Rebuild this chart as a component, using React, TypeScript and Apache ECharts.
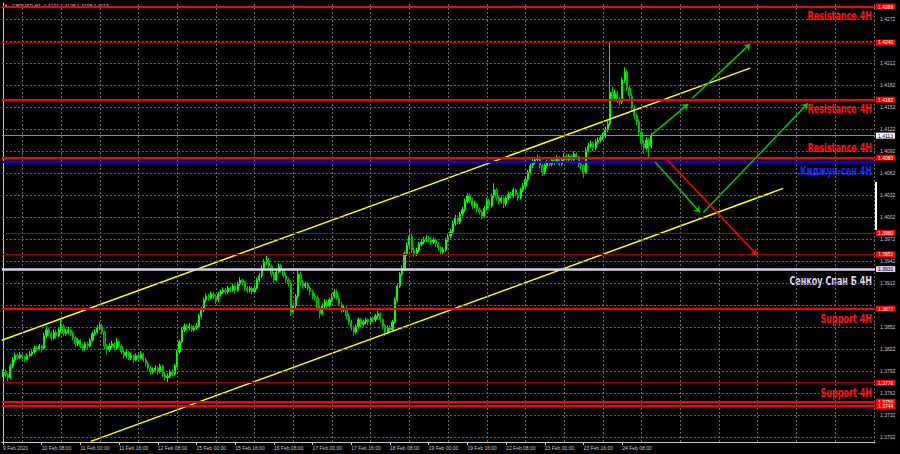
import React, { useEffect, useRef } from 'react';
import * as echarts from 'echarts';

// ---------- DATA ----------
const tickLabels = ['9 Feb 2021', '10 Feb 08:00', '11 Feb 00:00', '11 Feb 16:00', '12 Feb 08:00', '15 Feb 00:00', '15 Feb 16:00', '16 Feb 08:00', '17 Feb 00:00', '17 Feb 16:00', '18 Feb 08:00', '19 Feb 00:00', '19 Feb 16:00', '22 Feb 08:00', '23 Feb 00:00', '23 Feb 16:00', '24 Feb 08:00'];
const barsPerLabel = 16;
const totalSlots = 361; // bars + empty shift area on the right

const firstOpen = 1.3789;
const closes = [
  1.3791, 1.3787, 1.3783, 1.3799, 1.3807, 1.3813, 1.3810, 1.3814, 1.3811, 1.3808,
  1.3813, 1.3815, 1.3818, 1.3823, 1.3822, 1.3826, 1.3823, 1.3840, 1.3848, 1.3843,
  1.3837, 1.3845, 1.3840, 1.3848, 1.3853, 1.3843, 1.3845, 1.3848, 1.3843, 1.3837,
  1.3829, 1.3834, 1.3826, 1.3823, 1.3829, 1.3826, 1.3834, 1.3843, 1.3845, 1.3851,
  1.3853, 1.3845, 1.3826, 1.3821, 1.3826, 1.3829, 1.3823, 1.3832, 1.3826, 1.3818,
  1.3813, 1.3818, 1.3810, 1.3813, 1.3807, 1.3813, 1.3810, 1.3815, 1.3807, 1.3802,
  1.3796, 1.3791, 1.3793, 1.3796, 1.3791, 1.3799, 1.3788, 1.3783, 1.3785, 1.3791,
  1.3788, 1.3799, 1.3818, 1.3832, 1.3848, 1.3853, 1.3851, 1.3853, 1.3848, 1.3851,
  1.3853, 1.3867, 1.3875, 1.3889, 1.3894, 1.3892, 1.3897, 1.3894, 1.3889, 1.3897,
  1.3900, 1.3902, 1.3900, 1.3905, 1.3902, 1.3908, 1.3902, 1.3911, 1.3916, 1.3913,
  1.3905, 1.3902, 1.3905, 1.3900, 1.3905, 1.3916, 1.3922, 1.3932, 1.3941, 1.3943,
  1.3935, 1.3924, 1.3916, 1.3927, 1.3935, 1.3930, 1.3922, 1.3916, 1.3911, 1.3872,
  1.3881, 1.3894, 1.3924, 1.3913, 1.3908, 1.3911, 1.3905, 1.3900, 1.3894, 1.3892,
  1.3878, 1.3870, 1.3881, 1.3886, 1.3881, 1.3889, 1.3894, 1.3900, 1.3892, 1.3883,
  1.3875, 1.3878, 1.3867, 1.3859, 1.3851, 1.3845, 1.3853, 1.3862, 1.3856, 1.3859,
  1.3862, 1.3859, 1.3864, 1.3862, 1.3867, 1.3870, 1.3862, 1.3853, 1.3845, 1.3851,
  1.3848, 1.3859, 1.3889, 1.3908, 1.3924, 1.3932, 1.3952, 1.3963, 1.3976, 1.3957,
  1.3952, 1.3957, 1.3965, 1.3968, 1.3971, 1.3973, 1.3971, 1.3968, 1.3971, 1.3965,
  1.3960, 1.3954, 1.3957, 1.3971, 1.3976, 1.3982, 1.3993, 1.4001, 1.3995, 1.4006,
  1.4012, 1.4023, 1.4031, 1.4025, 1.4017, 1.4020, 1.4012, 1.4009, 1.4003, 1.4014,
  1.4025, 1.4017, 1.4031, 1.4039, 1.4028, 1.4023, 1.4028, 1.4020, 1.4028, 1.4033,
  1.4031, 1.4039, 1.4033, 1.4028, 1.4039, 1.4044, 1.4053, 1.4063, 1.4072, 1.4077,
  1.4080, 1.4083, 1.4072, 1.4063, 1.4072, 1.4077, 1.4074, 1.4080, 1.4077, 1.4083,
  1.4074, 1.4080, 1.4085, 1.4080, 1.4085, 1.4080, 1.4088, 1.4083, 1.4074, 1.4072,
  1.4063, 1.4093, 1.4099, 1.4102, 1.4096, 1.4104, 1.4107, 1.4110, 1.4113, 1.4121,
  1.4129, 1.4172, 1.4164, 1.4170, 1.4162, 1.4159, 1.4189, 1.4200, 1.4178, 1.4167,
  1.4151, 1.4140, 1.4132, 1.4118, 1.4102, 1.4096, 1.4107, 1.4099, 1.4113
];
const highs = [
  1.3794, 1.3795, 1.3789, 1.3802, 1.3811, 1.3817, 1.3816, 1.3818, 1.3817, 1.3813,
  1.3816, 1.3819, 1.3821, 1.3827, 1.3826, 1.3829, 1.3828, 1.3844, 1.3853, 1.3851,
  1.3846, 1.3849, 1.3848, 1.3852, 1.3862, 1.3856, 1.3849, 1.3852, 1.3850, 1.3846,
  1.3839, 1.3837, 1.3836, 1.3829, 1.3832, 1.3832, 1.3837, 1.3846, 1.3849, 1.3855,
  1.3859, 1.3856, 1.3847, 1.3829, 1.3830, 1.3833, 1.3831, 1.3837, 1.3834, 1.3828,
  1.3821, 1.3821, 1.3820, 1.3817, 1.3815, 1.3816, 1.3815, 1.3819, 1.3817, 1.3810,
  1.3805, 1.3799, 1.3797, 1.3800, 1.3798, 1.3802, 1.3801, 1.3791, 1.3789, 1.3794,
  1.3795, 1.3802, 1.3821, 1.3835, 1.3852, 1.3857, 1.3856, 1.3857, 1.3855, 1.3854,
  1.3857, 1.3870, 1.3879, 1.3892, 1.3898, 1.3897, 1.3900, 1.3899, 1.3896, 1.3900,
  1.3903, 1.3906, 1.3905, 1.3908, 1.3907, 1.3911, 1.3910, 1.3914, 1.3920, 1.3918,
  1.3915, 1.3908, 1.3908, 1.3907, 1.3908, 1.3919, 1.3926, 1.3936, 1.3945, 1.3949,
  1.3946, 1.3937, 1.3927, 1.3930, 1.3939, 1.3938, 1.3932, 1.3925, 1.3919, 1.3914,
  1.3885, 1.3897, 1.3932, 1.3927, 1.3916, 1.3914, 1.3913, 1.3908, 1.3903, 1.3898,
  1.3895, 1.3881, 1.3884, 1.3890, 1.3889, 1.3892, 1.3898, 1.3904, 1.3903, 1.3895,
  1.3886, 1.3882, 1.3880, 1.3870, 1.3862, 1.3854, 1.3856, 1.3865, 1.3864, 1.3862,
  1.3865, 1.3864, 1.3867, 1.3866, 1.3870, 1.3874, 1.3872, 1.3864, 1.3856, 1.3854,
  1.3854, 1.3862, 1.3892, 1.3911, 1.3927, 1.3936, 1.3955, 1.3967, 1.3986, 1.3979,
  1.3960, 1.3960, 1.3968, 1.3972, 1.3975, 1.3977, 1.3976, 1.3974, 1.3974, 1.3973,
  1.3968, 1.3962, 1.3961, 1.3974, 1.3980, 1.3986, 1.3997, 1.4005, 1.4004, 1.4009,
  1.4016, 1.4027, 1.4035, 1.4034, 1.4028, 1.4024, 1.4022, 1.4015, 1.4011, 1.4017,
  1.4028, 1.4027, 1.4034, 1.4048, 1.4041, 1.4031, 1.4031, 1.4030, 1.4031, 1.4037,
  1.4036, 1.4042, 1.4041, 1.4035, 1.4042, 1.4048, 1.4056, 1.4066, 1.4075, 1.4081,
  1.4084, 1.4087, 1.4085, 1.4074, 1.4075, 1.4080, 1.4079, 1.4083, 1.4082, 1.4086,
  1.4085, 1.4083, 1.4089, 1.4088, 1.4088, 1.4087, 1.4092, 1.4090, 1.4085, 1.4077,
  1.4074, 1.4097, 1.4103, 1.4106, 1.4105, 1.4108, 1.4111, 1.4114, 1.4117, 1.4125,
  1.4133, 1.4241, 1.4180, 1.4176, 1.4174, 1.4166, 1.4193, 1.4206, 1.4203, 1.4181,
  1.4170, 1.4154, 1.4143, 1.4135, 1.4121, 1.4106, 1.4111, 1.4110, 1.4117
];
const lows = [
  1.3784, 1.3783, 1.3778, 1.3781, 1.3796, 1.3804, 1.3807, 1.3808, 1.3808, 1.3804,
  1.3806, 1.3811, 1.3812, 1.3816, 1.3819, 1.3820, 1.3817, 1.3821, 1.3837, 1.3839,
  1.3833, 1.3835, 1.3836, 1.3838, 1.3845, 1.3840, 1.3840, 1.3842, 1.3840, 1.3834,
  1.3825, 1.3826, 1.3823, 1.3819, 1.3820, 1.3822, 1.3824, 1.3832, 1.3840, 1.3843,
  1.3848, 1.3842, 1.3822, 1.3815, 1.3818, 1.3823, 1.3820, 1.3821, 1.3823, 1.3815,
  1.3809, 1.3810, 1.3807, 1.3807, 1.3803, 1.3805, 1.3806, 1.3808, 1.3804, 1.3798,
  1.3793, 1.3787, 1.3788, 1.3790, 1.3787, 1.3789, 1.3784, 1.3779, 1.3777, 1.3782,
  1.3785, 1.3786, 1.3797, 1.3815, 1.3830, 1.3845, 1.3847, 1.3848, 1.3845, 1.3846,
  1.3848, 1.3851, 1.3864, 1.3872, 1.3886, 1.3888, 1.3889, 1.3890, 1.3883, 1.3886,
  1.3894, 1.3897, 1.3896, 1.3897, 1.3899, 1.3900, 1.3898, 1.3900, 1.3908, 1.3909,
  1.3901, 1.3898, 1.3899, 1.3896, 1.3897, 1.3903, 1.3913, 1.3919, 1.3929, 1.3937,
  1.3931, 1.3920, 1.3912, 1.3914, 1.3925, 1.3926, 1.3919, 1.3912, 1.3907, 1.3867,
  1.3869, 1.3878, 1.3891, 1.3909, 1.3904, 1.3905, 1.3902, 1.3896, 1.3890, 1.3888,
  1.3874, 1.3864, 1.3868, 1.3878, 1.3877, 1.3879, 1.3886, 1.3891, 1.3889, 1.3880,
  1.3871, 1.3872, 1.3863, 1.3855, 1.3847, 1.3840, 1.3842, 1.3850, 1.3852, 1.3853,
  1.3856, 1.3855, 1.3856, 1.3858, 1.3859, 1.3864, 1.3858, 1.3849, 1.3840, 1.3842,
  1.3844, 1.3846, 1.3857, 1.3886, 1.3905, 1.3921, 1.3929, 1.3949, 1.3960, 1.3953,
  1.3948, 1.3949, 1.3954, 1.3962, 1.3965, 1.3968, 1.3967, 1.3964, 1.3965, 1.3961,
  1.3956, 1.3950, 1.3951, 1.3955, 1.3968, 1.3973, 1.3979, 1.3990, 1.3991, 1.3992,
  1.4003, 1.4009, 1.4020, 1.4021, 1.4013, 1.4014, 1.4008, 1.4005, 1.3999, 1.4001,
  1.4011, 1.4013, 1.4015, 1.4028, 1.4024, 1.4019, 1.4020, 1.4014, 1.4017, 1.4025,
  1.4027, 1.4028, 1.4030, 1.4024, 1.4026, 1.4036, 1.4041, 1.4050, 1.4060, 1.4069,
  1.4074, 1.4077, 1.4068, 1.4058, 1.4060, 1.4069, 1.4071, 1.4071, 1.4073, 1.4075,
  1.4071, 1.4072, 1.4077, 1.4076, 1.4078, 1.4077, 1.4078, 1.4080, 1.4070, 1.4067,
  1.4055, 1.4061, 1.4090, 1.4096, 1.4092, 1.4093, 1.4101, 1.4104, 1.4107, 1.4110,
  1.4118, 1.4126, 1.4160, 1.4160, 1.4157, 1.4154, 1.4156, 1.4185, 1.4174, 1.4163,
  1.4146, 1.4135, 1.4127, 1.4113, 1.4097, 1.4088, 1.4093, 1.4082, 1.4096
];

const priceTicks = [1.3702, 1.3732, 1.3762, 1.3792, 1.3822, 1.3852, 1.3882, 1.3912, 1.3942, 1.3972, 1.4002, 1.4032, 1.4062, 1.4092, 1.4122, 1.4152, 1.4182, 1.4212, 1.4242, 1.4272];
const hiddenTickLabels = [1.3882, 1.4242];
const yMin = 1.36952;
const yMax = 1.42938;

const majorLevels = [1.4289, 1.4162, 1.4083, 1.3877, 1.3750, 1.3744];
const minorLevels = [1.4240, 1.3980, 1.3951, 1.3776];
const kijunPrice = 1.4078;
const senkouBPrice = 1.3931;
const lastPrice = 1.4113;

const zoneNames = ['Resistance 4H', 'Resistance 4H', 'Resistance 4H', 'Киджун-сен 4H', 'Сенкоу Спан Б 4H', 'Support 4H', 'Support 4H'];
const zonePrices = [1.4289, 1.4162, 1.4083, 1.4078, 1.3931, 1.3877, 1.3750];
const zoneKinds = ['res', 'res', 'res', 'kijun', 'senkou', 'sup', 'sup'];

const upperChannel = [[-0.5, 1.3834], [308.9, 1.4205]];
const lowerChannel = [[36.3, 1.3696], [322.5, 1.4041]];
const greenArrows = [
  [[268.4, 1.4115], [283.3, 1.4156]],
  [[284.9, 1.4164], [308.9, 1.4238]],
  [[269.6, 1.4077], [288.2, 1.4008]],
  [[289.5, 1.4008], [332.8, 1.4157]]
];
const redArrows = [
  [[274.6, 1.4080], [311.8, 1.3950]]
];

const titleText = 'GBPUSD,H1  1.4121 1.4126 1.4108 1.4113';

// ---------- STYLE ----------
const axisTextColor = '#c8c8c8';
const smallFont = '"Liberation Sans", Arial, sans-serif';
const zoneColors: Record<string, string> = { res: '#ff1010', sup: '#ff1010', kijun: '#1a2aff', senkou: '#dcd4f0' };
// vertical offset (px) of each zone caption's centre from its line
const zoneOffsets = [9, 9, -10, 9, 11, 10, -9];

function buildBaseGraphics() {
  return [
    { type: 'text', left: 4, top: 3, style: { text: '▼', fill: axisTextColor, font: '4px ' + smallFont } },
    { type: 'text', left: 12, top: 3, style: { text: titleText, fill: axisTextColor, font: '5px ' + smallFont } },
    { type: 'rect', shape: { x: 875, y: 182, width: 2, height: 48 }, style: { fill: '#ffffff' } }
  ];
}

function buildOption() {
  const categories = Array.from({ length: totalSlots }, (_, i) => String(i));
  const candles = closes.map((c, i) => [i === 0 ? firstOpen : closes[i - 1], c, lows[i], highs[i]]);
  const isLabelIdx = (idx: number) => idx % barsPerLabel === 0 && idx / barsPerLabel < tickLabels.length;
  const gridBars: number[] = [];
  for (let i = barsPerLabel / 2; i < totalSlots; i += barsPerLabel) gridBars.push(i);

  const priceBox = (p: number, bg: string, fg: string) => ({
    show: true,
    position: 'end',
    distance: 1,
    formatter: p.toFixed(4),
    backgroundColor: bg,
    color: fg,
    padding: [1, 2, 0, 2],
    fontSize: 5,
    fontFamily: smallFont
  });

  const levelData: any[] = [];
  minorLevels.forEach((p) => levelData.push({ yAxis: p, lineStyle: { color: '#a00000', width: 1, type: 'solid' }, label: priceBox(p, '#ff0000', '#ffffff') }));
  levelData.push({ yAxis: senkouBPrice, lineStyle: { color: '#d8d0ec', width: 2.5, type: 'solid' }, label: priceBox(senkouBPrice, '#d8d0ec', '#000000') });
  levelData.push({ yAxis: lastPrice, lineStyle: { color: '#8c8c8c', width: 1, type: 'solid' }, label: priceBox(lastPrice, '#ffffff', '#000000') });
  levelData.push({ yAxis: kijunPrice, lineStyle: { color: '#0000ff', width: 2, type: 'solid' }, label: { show: false } });
  majorLevels.forEach((p) => levelData.push({ yAxis: p, lineStyle: { color: '#ff0000', width: 2, type: 'solid' }, label: priceBox(p, '#ff0000', '#ffffff') }));

  return {
    animation: false,
    backgroundColor: '#000000',
    grid: { left: 1, right: 25, top: 3, bottom: 12 },
    xAxis: [
      {
        type: 'category',
        data: categories,
        boundaryGap: true,
        axisLine: { show: true, lineStyle: { color: axisTextColor, width: 1 } },
        axisTick: { show: true, interval: (idx: number) => isLabelIdx(idx), alignWithLabel: true, length: 3, lineStyle: { color: axisTextColor } },
        axisLabel: {
          show: true,
          interval: (idx: number) => isLabelIdx(idx),
          formatter: (v: string) => tickLabels[Number(v) / barsPerLabel] || '',
          color: axisTextColor,
          fontSize: 5,
          fontFamily: smallFont,
          align: 'left',
          margin: 3,
          hideOverlap: false
        },
        splitLine: { show: false }
      },
      { type: 'value', min: -0.5, max: totalSlots - 0.5, show: false }
    ],
    yAxis: {
      type: 'value',
      min: yMin,
      max: yMax,
      position: 'right',
      axisLine: { show: true, lineStyle: { color: axisTextColor, width: 1 } },
      axisTick: { show: false },
      axisLabel: { show: false },
      splitLine: { show: false }
    },
    graphic: buildBaseGraphics(),
    series: [
      {
        type: 'line', data: [], xAxisIndex: 0, yAxisIndex: 0, z: 1, silent: true,
        markLine: {
          silent: true, symbol: 'none', animation: false, precision: 5,
          lineStyle: { color: '#686868', type: [2, 2], width: 1 },
          label: { show: false },
          data: [
            ...priceTicks.map((p) => ({
              yAxis: p,
              label: { show: !hiddenTickLabels.includes(p), position: 'end', distance: 5, formatter: p.toFixed(4), color: axisTextColor, fontSize: 5, fontFamily: smallFont }
            })),
            ...gridBars.map((i) => ({ xAxis: i, label: { show: false } }))
          ]
        }
      },
      {
        type: 'candlestick',
        data: candles,
        xAxisIndex: 0, yAxisIndex: 0, z: 2,
        barWidth: '70%',
        itemStyle: { color: '#33dd33', color0: '#007a00', borderColor: '#00ff00', borderColor0: '#00c000', borderWidth: 1 }
      },
      {
        type: 'line', data: upperChannel, xAxisIndex: 1, yAxisIndex: 0, z: 3, showSymbol: false, symbol: 'none', silent: true,
        lineStyle: { color: '#ffff00', width: 1.5 }
      },
      {
        type: 'line', data: lowerChannel, xAxisIndex: 1, yAxisIndex: 0, z: 3, showSymbol: false, symbol: 'none', silent: true,
        lineStyle: { color: '#ffff00', width: 1.5 }
      },
      {
        type: 'line', data: [], xAxisIndex: 0, yAxisIndex: 0, z: 4, silent: true,
        markLine: { silent: true, symbol: 'none', animation: false, precision: 5, data: levelData }
      },
      {
        type: 'line', data: [], xAxisIndex: 1, yAxisIndex: 0, z: 5, silent: true,
        markLine: {
          silent: true, symbol: ['none', 'arrow'], symbolSize: 6, animation: false, precision: 5,
          label: { show: false },
          lineStyle: { color: '#00c800', width: 1.5, type: 'solid' },
          data: greenArrows.map((a) => [{ coord: a[0] }, { coord: a[1] }])
        }
      },
      {
        type: 'line', data: [], xAxisIndex: 1, yAxisIndex: 0, z: 5, silent: true,
        markLine: {
          silent: true, symbol: ['none', 'arrow'], symbolSize: 6, animation: false, precision: 5,
          label: { show: false },
          lineStyle: { color: '#ff0000', width: 1.5, type: 'solid' },
          data: redArrows.map((a) => [{ coord: a[0] }, { coord: a[1] }])
        }
      }
    ]
  };
}

function buildZoneGraphics(chart: any) {
  const rightPx = chart.convertToPixel({ xAxisIndex: 1 }, totalSlots - 0.5) - 3;
  return zoneNames.map((name, i) => {
    const y = chart.convertToPixel({ yAxisIndex: 0 }, zonePrices[i]) + zoneOffsets[i];
    return {
      type: 'group',
      x: rightPx,
      y,
      scaleX: 0.78,
      scaleY: 1,
      z: 100,
      silent: true,
      children: [
        {
          type: 'text',
          x: 0,
          y: 0,
          silent: true,
          style: {
            text: name,
            fill: zoneColors[zoneKinds[i]],
            fontSize: 11.5,
            fontWeight: 'bold',
            fontFamily: '"DejaVu Sans Condensed", "Liberation Sans", Arial, sans-serif',
            align: 'right',
            verticalAlign: 'middle'
          }
        }
      ]
    };
  });
}

export default function App() {
  const ref = useRef<HTMLDivElement>(null);
  useEffect(() => {
    if (!ref.current) return;
    const chart = echarts.init(ref.current, undefined, { renderer: 'svg' });
    chart.setOption(buildOption() as any);
    chart.setOption({ graphic: [...buildBaseGraphics(), ...buildZoneGraphics(chart)] } as any);
    return () => chart.dispose();
  }, []);
  return <div ref={ref} style={{ position: 'absolute', left: 0, top: 0, width: 900, height: 454, background: '#000' }} />;
}
